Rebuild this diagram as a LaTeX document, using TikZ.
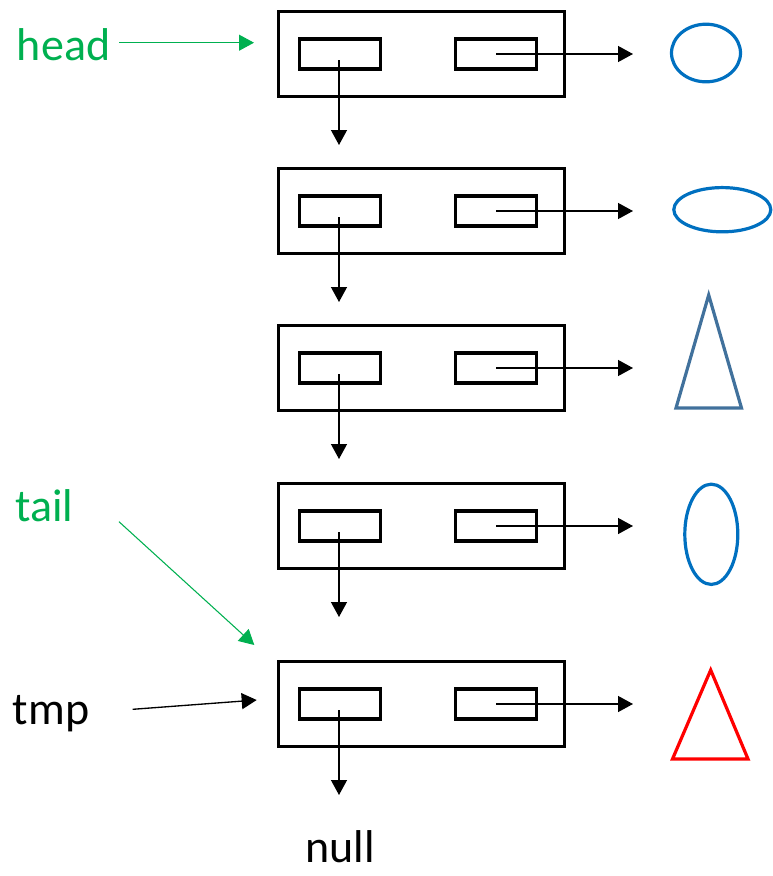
\documentclass[tikz,border=0pt]{standalone}
\usepackage{fontspec}
\setmainfont{Carlito}
\usetikzlibrary{arrows.meta,shapes.geometric,calc}
\definecolor{lblgreen}{HTML}{00B050}
\definecolor{shapeblue}{HTML}{0070C0}
\definecolor{steel}{HTML}{41719C}
\definecolor{shapered}{HTML}{FF0000}
\begin{document}
\begin{tikzpicture}[x=0.75pt,y=-0.75pt,
  cell/.style={draw, line width=2.3pt, minimum width=214.5pt, minimum height=63.75pt, inner sep=0pt, outer sep=0pt},
  field/.style={draw, line width=2.3pt, minimum width=60.75pt, minimum height=22.5pt, inner sep=0pt, outer sep=0pt},
  tip/.style={-{Triangle[length=11.25pt,width=12pt]}},
  link/.style={tip, line width=1pt},
  pointer/.style={tip, line width=0.8pt, lblgreen},
  txt/.style={font=\fontsize{34.5}{40}\selectfont, inner sep=0pt, anchor=base west},
  outline/.style={line width=2.4pt, line join=miter}
]
\useasboundingbox (0,0) rectangle (773,876);

% list cells: outer box, next field (left), data field (right)
\foreach \i/\y in {1/54, 2/211, 3/368, 4/526, 5/704} {
  \node[cell] (c\i) at (421.5,\y) {};
  \node[field] (n\i) at (340,\y) {};
  \node[field] (d\i) at (496,\y) {};
  \coordinate (down\i) at (339,\y+91);
  \coordinate (obj\i) at (633,\y);
  \draw[link] ($(n\i.center)+(-1,6)$) -- (down\i);
  \draw[link] (d\i.center) -- (obj\i);
}

% objects referenced by the data fields
\node[ellipse, draw=shapeblue, outline, minimum width=51.75pt, minimum height=43.2pt, inner sep=0pt] (o1) at (706,53) {};
\node[ellipse, draw=shapeblue, outline, minimum width=72.75pt, minimum height=33.2pt, inner sep=0pt] (o2) at (722.3,209.7) {};
\draw[steel, outline] (708.7,295) -- (741.5,408) -- (676,408) -- cycle;
\node[ellipse, draw=shapeblue, outline, minimum width=39.75pt, minimum height=75.2pt, inner sep=0pt] (o4) at (711.3,534.3) {};
\draw[shapered, outline] (710.7,670) -- (748,759) -- (672.5,759) -- cycle;

% pointer labels
\node[txt, text=lblgreen] (head) at (16.7,60) {head};
\node[txt, text=lblgreen] (tail) at (15,521.7) {tail};
\node[txt] (tmp) at (12.7,724) {tmp};
\node[txt, text depth=0pt] (null) at (305,862) {null};

\coordinate (headstart) at (119,42.7);
\coordinate (headtip) at (254,42.7);
\draw[pointer] (headstart) -- (headtip);

\coordinate (tailstart) at (119,521.7);
\coordinate (tailtip) at (254.3,645);
\draw[pointer] (tailstart) -- (tailtip);

\coordinate (tmpstart) at (132.7,709.3);
\coordinate (tmptip) at (256.7,700);
\draw[link] (tmpstart) -- (tmptip);
\end{tikzpicture}
\end{document}
